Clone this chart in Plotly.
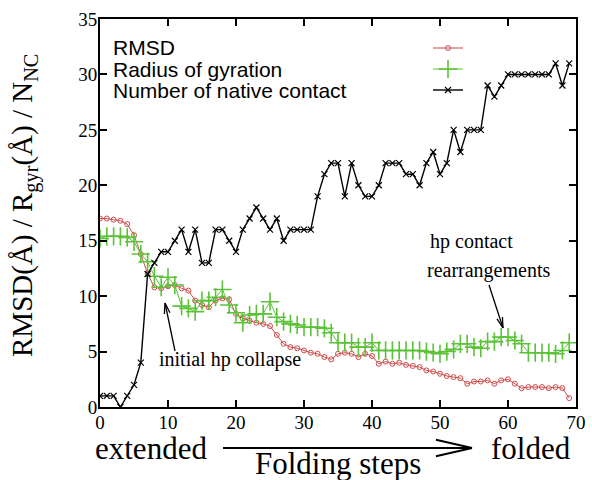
import math
import plotly.graph_objects as go

# Folding trajectory: one value per folding step
steps = list(range(70))

rmsd = [17.0, 17.0, 16.9, 16.8, 16.5, 15.5, 13.8, 12.0, 10.8, 10.7,
        10.9, 11.0, 10.7, 10.5, 9.6, 9.2, 9.0, 9.6, 9.8, 9.7,
        8.4, 8.0, 7.8, 7.6, 7.5, 7.3, 6.5, 5.7, 5.4, 5.3,
        5.1, 4.9, 4.8, 4.5, 4.3, 4.8, 4.9, 4.8, 4.5, 4.8,
        4.6, 3.9, 4.1, 3.9, 4.0, 3.8, 3.7, 3.6, 3.3, 3.2,
        3.0, 2.8, 2.7, 2.6, 2.1, 2.3, 2.3, 2.4, 2.1, 2.4,
        2.5, 2.1, 1.7, 1.8, 1.8, 1.8, 1.7, 1.8, 1.7, 0.8]

radius_gyration = [15.2, 15.4, 15.4, 15.4, 15.3, 14.9, 13.8, 13.1, 11.8, 10.8,
                   11.7, 11.0, 9.1, 8.9, 8.6, 9.6, 9.6, 9.9, 10.6, 9.2,
                   8.5, 7.6, 8.3, 8.4, 8.4, 9.5, 8.1, 7.7, 7.5, 7.4,
                   7.2, 7.2, 7.2, 7.1, 6.7, 5.8, 5.8, 5.8, 5.4, 5.4,
                   5.8, 5.1, 5.1, 5.1, 5.1, 5.1, 5.1, 5.1, 5.0, 4.9,
                   4.8, 5.0, 5.2, 5.7, 5.7, 5.4, 5.3, 5.9, 5.9, 6.3,
                   6.3, 6.0, 5.7, 4.9, 4.9, 4.9, 4.9, 4.8, 5.1, 5.8]

native_contacts = [1, 1, 1, 0, 1, 2, 4, 12, 13, 14,
                   14, 15, 16, 14, 16, 13, 13, 16, 16, 15,
                   14, 16, 17, 18, 17, 16, 17, 15, 16, 16,
                   16, 16, 19, 21, 22, 22, 19, 22, 20, 19,
                   19, 20, 22, 22, 22, 21, 21, 20, 22, 23,
                   21, 22, 25, 23, 25, 25, 25, 29, 28, 29,
                   30, 30, 30, 30, 30, 30, 30, 31, 29, 31]

series_names = ["RMSD", "Radius of gyration", "Number of native contact"]
x_ticks = [0, 10, 20, 30, 40, 50, 60, 70]
y_ticks = [0, 5, 10, 15, 20, 25, 30, 35]

RED = "#cf4a4a"
GREEN = "#5cc23a"
BLACK = "#000000"
SERIF = "Liberation Serif"
SANS = "Liberation Sans"

# plot-area geometry in pixels (used to place decorations outside the axes)
W, H = 592, 480
L, R, T, B = 100, 16, 19, 73
PW, PH = W - L - R, H - T - B


def px(xp):
    return (xp - L) / PW


def py(yp):
    return (H - B - yp) / PH


def add_line(fig, p0, p1, width):
    fig.add_shape(type="line", xref="paper", yref="paper",
                  x0=px(p0[0]), y0=py(p0[1]), x1=px(p1[0]), y1=py(p1[1]),
                  line=dict(color="black", width=width))


def add_arrow(fig, tail, tip, width, head_len, half_angle_deg):
    """Straight arrow with an open V head, given in pixel positions."""
    add_line(fig, tail, tip, width)
    ang = math.atan2(tail[1] - tip[1], tail[0] - tip[0])
    for s in (-1, 1):
        a = ang + s * math.radians(half_angle_deg)
        add_line(fig, tip, (tip[0] + head_len * math.cos(a), tip[1] + head_len * math.sin(a)), width)


fig = go.Figure()

styles = [
    (rmsd, RED, dict(symbol="circle-open", size=5, color=RED, line=dict(width=1, color=RED)), 1.0),
    (radius_gyration, GREEN, dict(symbol="cross-thin-open", size=13, color=GREEN, line=dict(width=1.6, color=GREEN)), 1.0),
    (native_contacts, BLACK, dict(symbol="x-thin-open", size=6, color=BLACK, line=dict(width=1.2, color=BLACK)), 1.4),
]

for (vals, col, mk, lw), name in zip(styles, series_names):
    fig.add_trace(go.Scatter(x=steps, y=vals, mode="lines+markers", name=name,
                             line=dict(color=col, width=lw), marker=mk,
                             showlegend=False))

# key: text on the left, line samples on the right (drawn on an overlay 0..1 axis)
key_rows = [48, 69, 90]
for (vals, col, mk, lw), name, yrow in zip(styles, series_names, key_rows):
    fig.add_trace(go.Scatter(x=[px(433), px(463)], y=[py(yrow)] * 2, mode="lines",
                             line=dict(color=col, width=lw), xaxis="x2", yaxis="y2",
                             showlegend=False, hoverinfo="skip"))
    fig.add_trace(go.Scatter(x=[px(448)], y=[py(yrow)], mode="markers", marker=mk,
                             xaxis="x2", yaxis="y2", showlegend=False, hoverinfo="skip"))
    fig.add_annotation(text=name, xref="paper", yref="paper", x=px(111), y=py(yrow),
                       xanchor="left", yanchor="middle", showarrow=False,
                       font=dict(family=SANS, size=21, color="black"))

tickfont = dict(family=SERIF, size=19, color="black")
axis_common = dict(showline=True, linecolor="black", linewidth=2, mirror="ticks",
                   ticks="inside", ticklen=7, tickwidth=1.5, tickcolor="black",
                   showgrid=False, zeroline=False, tickfont=tickfont)

fig.update_layout(
    template="none",
    width=W, height=H,
    margin=dict(l=L, r=R, t=T, b=B),
    paper_bgcolor="white", plot_bgcolor="white",
    font=dict(family=SERIF, size=19, color="black"),
    xaxis=dict(range=[0, 70], tickvals=x_ticks, ticklabelstandoff=-3, **axis_common),
    yaxis=dict(range=[0, 35], tickvals=y_ticks, ticklabelstandoff=-3, **axis_common),
    xaxis2=dict(range=[0, 1], overlaying="x", visible=False),
    yaxis2=dict(range=[0, 1], overlaying="y", visible=False),
)

# y-axis title
fig.add_annotation(text="RMSD(Å) / R<sub>gyr</sub>(Å) / N<sub>NC</sub>",
                   xref="paper", yref="paper", x=px(25), y=py(206), textangle=-90,
                   xanchor="center", yanchor="middle", showarrow=False,
                   font=dict(family=SERIF, size=29, color="black"))

# x-axis caption: extended ---> folded, with "Folding steps" underneath
for txt, xc, yc in [("extended", 151, 448), ("folded", 531, 448), ("Folding steps", 338, 463)]:
    fig.add_annotation(text=txt, xref="paper", yref="paper", x=px(xc), y=py(yc),
                       xanchor="center", yanchor="middle", showarrow=False,
                       font=dict(family=SERIF, size=31, color="black"))

add_arrow(fig, (223, 448), (472, 448), 2, 37, 13)

# in-plot notes
fig.add_annotation(text="initial hp collapse", xref="paper", yref="paper",
                   x=px(230), y=py(359), xanchor="center", yanchor="middle", showarrow=False,
                   font=dict(family=SERIF, size=20, color="black"))
add_arrow(fig, (175, 351), (165, 303), 1.3, 11, 15)

fig.add_annotation(text="hp contact", xref="paper", yref="paper",
                   x=px(428), y=py(242), xanchor="left", yanchor="middle", showarrow=False,
                   font=dict(family=SERIF, size=20, color="black"))
fig.add_annotation(text="rearrangements", xref="paper", yref="paper",
                   x=px(425), y=py(270), xanchor="left", yanchor="middle", showarrow=False,
                   font=dict(family=SERIF, size=20, color="black"))
add_arrow(fig, (489, 285), (503, 328), 1.3, 11, 15)

fig.write_html("out.html")
